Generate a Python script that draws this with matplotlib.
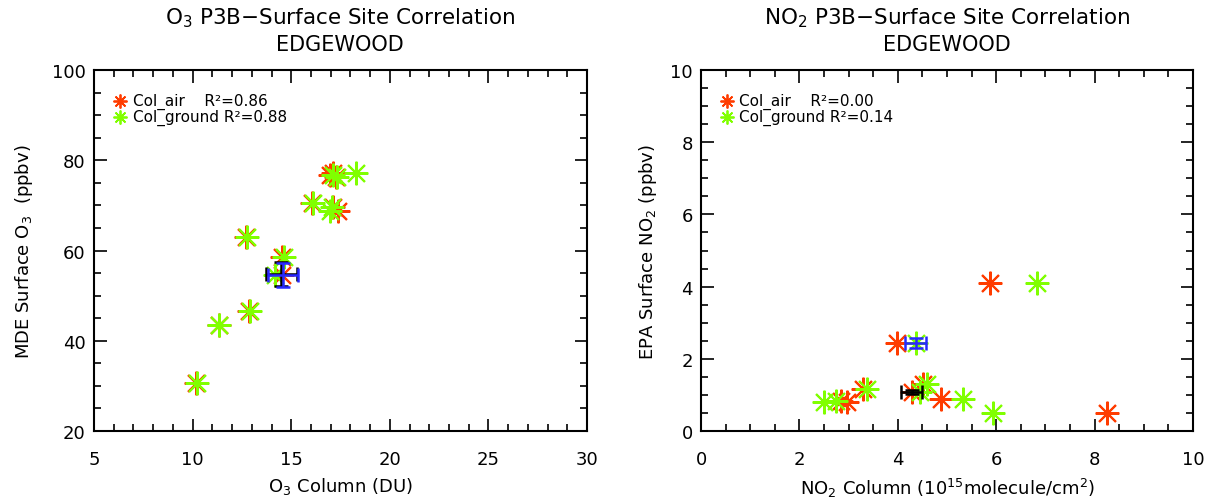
import matplotlib
matplotlib.use('Agg')
import matplotlib.pyplot as plt

# O3 panel: one surface value, two column estimates per profile
o3_surface = [30.6, 43.6, 46.5, 62.9, 58.5, 54.6, 70.6, 68.8, 69.6, 76.7, 76.2, 77.1]
o3_col_air = [10.16, 11.34, 12.86, 12.72, 14.55, 14.55, 16.07, 17.35, 17.1, 16.97, 17.25, 17.1]
o3_col_ground = [10.2, 11.34, 12.9, 12.76, 14.62, 14.16, 16.1, 16.97, 17.05, 17.1, 17.3, 18.29]
o3_mean_air = (14.5, 54.8, 0.78, 2.7)      # x, y, xerr, yerr
o3_mean_ground = (14.58, 54.6, 0.78, 2.7)

# NO2 panel
no2_surface = [2.44, 4.10, 0.50, 0.90, 1.30, 1.08, 1.16, 0.81, 0.83]
no2_col_air = [3.98, 5.87, 8.25, 4.87, 4.52, 4.28, 3.29, 2.97, 2.85]
no2_col_ground = [4.36, 6.82, 5.94, 5.32, 4.59, 4.45, 3.37, 2.49, 2.74]
no2_mean_air = (4.28, 1.08, 0.22, 0.05)
no2_mean_ground = (4.36, 2.44, 0.22, 0.13)

r2_o3 = (0.86, 0.88)
r2_no2 = (0.00, 0.14)

RED = '#ff3c00'
GREEN = '#80ff00'
BLUE = '#2828ff'
STAR = (8, 2, 0)

plt.rcParams['font.family'] = ['DejaVu Sans']


def panel(ax, xa, xg, y, m_air, m_ground, r2, xlim, ylim, xmaj, xmin, ymaj, ymin):
    ax.plot(xa, y, ls='none', marker=STAR, ms=17, mew=1.5, color=RED)
    ax.plot(xg, y, ls='none', marker=STAR, ms=17, mew=1.5, color=GREEN)
    for m, c in [(m_air, 'black'), (m_ground, BLUE)]:
        ax.errorbar(m[0], m[1], xerr=m[2], yerr=m[3], fmt='none', ecolor=c,
                    elinewidth=1.8, capsize=5, capthick=1.8)
    ax.set_xlim(xlim)
    ax.set_ylim(ylim)
    ax.set_xticks(xmaj)
    ax.set_xticks(xmin, minor=True)
    ax.set_yticks(ymaj)
    ax.set_yticks(ymin, minor=True)
    ax.tick_params(which='both', direction='in', top=True, right=True, width=1.2,
                   labelsize=13)
    ax.tick_params(which='major', length=9)
    ax.tick_params(which='minor', length=5)
    ax.tick_params(axis='x', pad=14)
    ax.tick_params(axis='y', pad=6)
    for s in ax.spines.values():
        s.set_linewidth(1.5)
    # legend drawn by hand, IDL style
    ax.plot([0.053], [0.914], transform=ax.transAxes, marker=STAR, ms=10, mew=1.3,
            color=RED, clip_on=False)
    ax.plot([0.053], [0.870], transform=ax.transAxes, marker=STAR, ms=10, mew=1.3,
            color=GREEN, clip_on=False)
    ax.text(0.078, 0.914, 'Col_air    R\u00b2=%.2f' % r2[0], transform=ax.transAxes,
            va='center', fontsize=11)
    ax.text(0.078, 0.870, 'Col_ground R\u00b2=%.2f' % r2[1], transform=ax.transAxes,
            va='center', fontsize=11)


fig = plt.figure(figsize=(12.12, 5.02), dpi=100)
ax1 = fig.add_axes([0.0776, 0.1394, 0.4068, 0.7191])
ax2 = fig.add_axes([0.5784, 0.1394, 0.406, 0.7191])

panel(ax1, o3_col_air, o3_col_ground, o3_surface, o3_mean_air, o3_mean_ground, r2_o3,
      (5, 30), (20, 100), range(5, 31, 5), range(5, 31, 1), range(20, 101, 20),
      range(20, 101, 5))
panel(ax2, no2_col_air, no2_col_ground, no2_surface, no2_mean_air, no2_mean_ground, r2_no2,
      (0, 10), (0, 10), range(0, 11, 2), [i * 0.5 for i in range(21)], range(0, 11, 2),
      [i * 0.5 for i in range(21)])

ax1.set_xlabel('O$_3$ Column (DU)', fontsize=13, labelpad=5)
ax1.set_ylabel('MDE Surface O$_3$  (ppbv)', fontsize=13, labelpad=12)
ax2.set_xlabel('NO$_2$ Column (10$^{15}$molecule/cm$^2$)', fontsize=13, labelpad=5)
ax2.set_ylabel('EPA Surface NO$_2$ (ppbv)', fontsize=13, labelpad=8)

fig.text(340 / 1212, 1 - 18 / 502, 'O$_3$ P3B\u2212Surface Site Correlation', ha='center',
         va='center', fontsize=15.5)
fig.text(340 / 1212, 1 - 45 / 502, 'EDGEWOOD', ha='center', va='center', fontsize=15)
fig.text(947 / 1212, 1 - 18 / 502, 'NO$_2$ P3B\u2212Surface Site Correlation', ha='center',
         va='center', fontsize=15.5)
fig.text(947 / 1212, 1 - 45 / 502, 'EDGEWOOD', ha='center', va='center', fontsize=15)

fig.savefig('out.png', dpi=100)
